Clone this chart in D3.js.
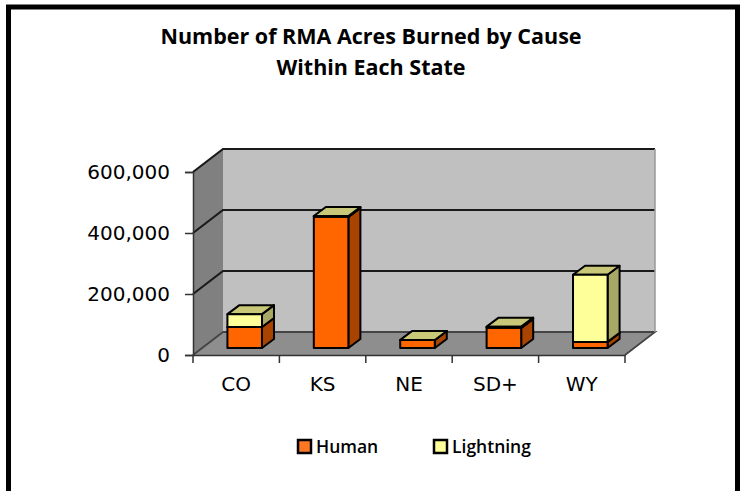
<!DOCTYPE html>
<html>
<head>
<meta charset="utf-8">
<script src="https://cdn.jsdelivr.net/npm/d3@7"></script>
<style>
  html, body { margin: 0; padding: 0; background: #fff; overflow: hidden; }
  text { font-family: "Comic Sans MS", "Open Sans", sans-serif; fill: #000; }
</style>
</head>
<body>
<div id="chart-container"></div>
<script>
const titleLines = ["Number of RMA Acres Burned by Cause", "Within Each State"];
const categories = ["CO", "KS", "NE", "SD+", "WY"];
const seriesNames = ["Human", "Lightning"];
const human = [69000, 430000, 26000, 66000, 20000];
const lightning = [42000, 3000, 0, 4000, 220000];
const yTicks = [0, 200000, 400000, 600000];

const W = 744, H = 491;

const svg = d3.select("#chart-container")
  .append("svg")
    .attr("width", W)
    .attr("height", H)
    .style("display", "block");

// outer frame runs off the bottom of the picture
svg.append("rect")
  .attr("x", 8.5).attr("y", 7)
  .attr("width", 729).attr("height", H)
  .attr("fill", "#fff")
  .attr("stroke", "#000")
  .attr("stroke-width", 5);

svg.selectAll(".title")
  .data(titleLines)
  .join("text")
    .attr("class", "title")
    .attr("x", 371)
    .attr("y", (d, i) => 44 + i * 31)
    .attr("text-anchor", "middle")
    .attr("font-size", 21.5)
    .attr("font-weight", 700)
    .text(d => d);

const x = d3.scaleBand().domain(categories).range([193, 625]).paddingInner(0.6).paddingOuter(0.3);
const bandX = d3.scaleBand().domain(categories).range([193, 625]);
const y = d3.scaleLinear().domain([0, 600000]).range([355, 172]);

// 3d offsets: wall depth, gap in front of a bar, bar depth
const wall = { dx: 30, dy: -23 };
const gap = { dx: 8.5, dy: -7 };
const depth = { dx: 12, dy: -9 };

const poly = pts => d3.line()(pts) + "Z";
const [x0, x1] = bandX.range();
const yMax = y(600000), yMin = y(0);

// left wall, back wall, floor
svg.append("path")
  .attr("d", poly([[x0, yMax], [x0 + wall.dx, yMax + wall.dy], [x0 + wall.dx, yMin + wall.dy], [x0, yMin]]))
  .attr("fill", "#808080");
svg.append("path")
  .attr("d", poly([[x0 + wall.dx, yMax + wall.dy], [x1 + wall.dx, yMax + wall.dy], [x1 + wall.dx, yMin + wall.dy], [x0 + wall.dx, yMin + wall.dy]]))
  .attr("fill", "#c0c0c0");
svg.append("path")
  .attr("d", poly([[x0, yMin], [x0 + wall.dx, yMin + wall.dy], [x1 + wall.dx, yMin + wall.dy], [x1, yMin]]))
  .attr("fill", "#8e8e8e");

// gridlines bent round the left wall
svg.selectAll(".grid")
  .data(yTicks.slice(1))
  .join("path")
    .attr("class", "grid")
    .attr("fill", "none")
    .attr("stroke", "#1a1a1a")
    .attr("stroke-width", 2.2)
    .attr("d", d => d3.line()([[x0, y(d)], [x0 + wall.dx, y(d) + wall.dy], [x1 + wall.dx, y(d) + wall.dy]]));

svg.append("path")
  .attr("fill", "none")
  .attr("stroke", "#444")
  .attr("stroke-width", 1.8)
  .attr("d", d3.line()([[x0, yMin], [x0 + wall.dx, yMin + wall.dy], [x1 + wall.dx, yMin + wall.dy], [x1, yMin]]));
svg.append("path")
  .attr("fill", "none")
  .attr("stroke", "#999")
  .attr("stroke-width", 1.5)
  .attr("d", d3.line()([[x1 + wall.dx, yMin + wall.dy], [x1 + wall.dx, yMax + wall.dy]]));

// stacked bars
const table = categories.map((c, i) => ({ cat: c, Human: human[i], Lightning: lightning[i] }));
const stacked = d3.stack().keys(seriesNames)(table);
const colors = {
  Human: { front: "#ff6600", side: "#a84400", top: "#a84400" },
  Lightning: { front: "#ffff99", side: "#a8a866", top: "#c8c878" }
};

const segs = svg.selectAll(".seg")
  .data(stacked.flatMap(s => s.map(d => ({ key: s.key, cat: d.data.cat, lo: d[0], hi: d[1] }))))
  .join("g")
    .attr("class", "seg")
    .attr("stroke", "#000")
    .attr("stroke-width", 2)
    .attr("stroke-linejoin", "round");

const bx = d => x(d.cat) + gap.dx;
const by = v => y(v) + gap.dy;
segs.append("path")
  .attr("fill", d => colors[d.key].side)
  .attr("d", d => {
    const r = bx(d) + x.bandwidth();
    return poly([[r, by(d.hi)], [r + depth.dx, by(d.hi) + depth.dy], [r + depth.dx, by(d.lo) + depth.dy], [r, by(d.lo)]]);
  });
segs.append("path")
  .attr("fill", d => colors[d.key].top)
  .attr("d", d => {
    const l = bx(d), r = l + x.bandwidth();
    return poly([[l, by(d.hi)], [l + depth.dx, by(d.hi) + depth.dy], [r + depth.dx, by(d.hi) + depth.dy], [r, by(d.hi)]]);
  });
segs.append("rect")
  .attr("x", bx)
  .attr("y", d => by(d.hi))
  .attr("width", x.bandwidth())
  .attr("height", d => by(d.lo) - by(d.hi))
  .attr("fill", d => colors[d.key].front);

// axes
const yAxis = svg.append("g")
  .attr("transform", `translate(${x0},0)`)
  .call(d3.axisLeft(y).tickValues(yTicks).tickSize(8).tickPadding(15).tickFormat(d3.format(",")));
const xAxis = svg.append("g")
  .attr("transform", `translate(0,${yMin})`)
  .call(d3.axisBottom(bandX).tickSize(0).tickPadding(22));

[yAxis, xAxis].forEach(g => {
  g.selectAll("path.domain").attr("stroke", "#333").attr("stroke-width", 1.5);
  g.selectAll(".tick line").attr("stroke", "#333").attr("stroke-width", 1.5);
  g.selectAll("text").attr("font-size", 20).style("font-family", "'DejaVu Sans', sans-serif");
});

// category boundary ticks
svg.selectAll(".xtick")
  .data(categories.concat(null))
  .join("line")
    .attr("class", "xtick")
    .attr("x1", d => d === null ? x1 : bandX(d))
    .attr("x2", d => d === null ? x1 : bandX(d))
    .attr("y1", yMin)
    .attr("y2", yMin + 8)
    .attr("stroke", "#333")
    .attr("stroke-width", 1.5);

// legend
const legendX = [297, 433];
const legend = svg.selectAll(".legend")
  .data(seriesNames)
  .join("g")
    .attr("class", "legend")
    .attr("transform", (d, i) => `translate(${legendX[i]},439)`);
legend.append("rect")
  .attr("x", 1).attr("y", 1)
  .attr("width", 13).attr("height", 13)
  .attr("fill", d => d === "Human" ? "#ff7722" : "#ffff99")
  .attr("stroke", "#000")
  .attr("stroke-width", 2.5);
legend.append("text")
  .attr("x", 19)
  .attr("y", 14)
  .attr("font-size", 17.5)
  .attr("font-weight", 600)
  .text(d => d);
</script>
</body>
</html>
